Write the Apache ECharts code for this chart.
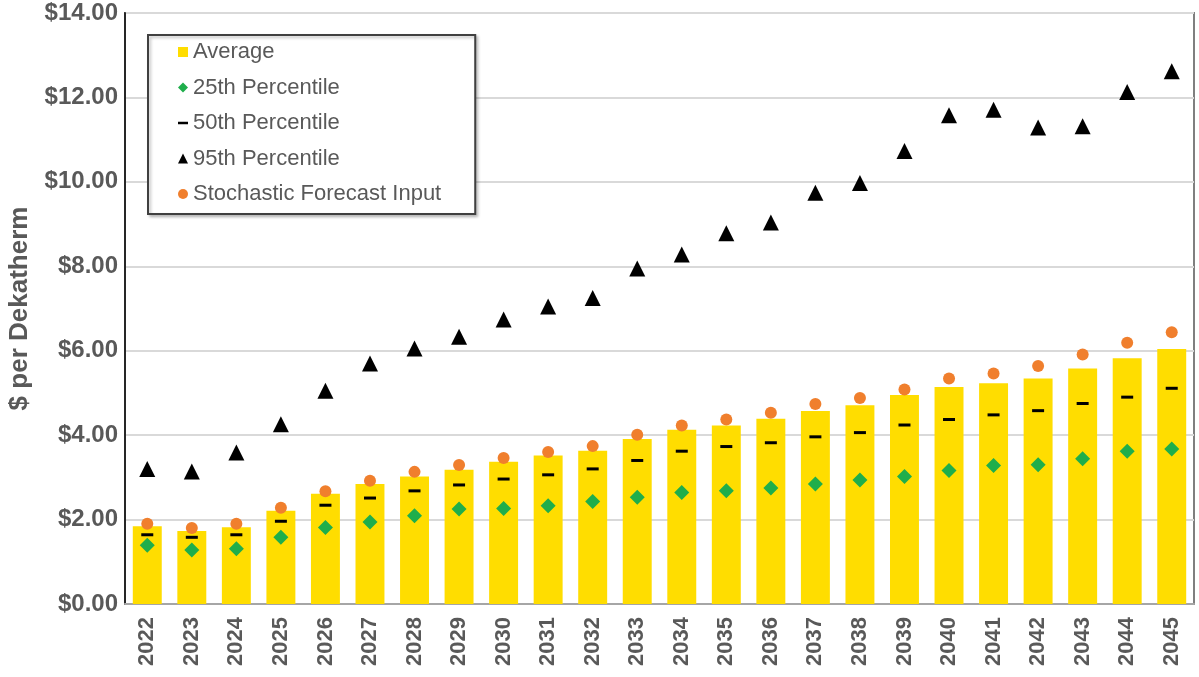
<!DOCTYPE html>
<html>
<head>
<meta charset="utf-8">
<title>Natural gas price forecast</title>
<script src="https://cdn.jsdelivr.net/npm/echarts@6/dist/echarts.min.js"></script>
<style>
  html, body { margin: 0; padding: 0; background: #ffffff; }
  #chart { width: 1199px; height: 677px; }
</style>
</head>
<body>
<div id="chart"></div>
<script>
// Forecast years
const years = ['2022','2023','2024','2025','2026','2027','2028','2029','2030','2031','2032','2033',
               '2034','2035','2036','2037','2038','2039','2040','2041','2042','2043','2044','2045'];

// $ per Dekatherm
const average = [1.84,1.73,1.82,2.21,2.61,2.84,3.02,3.18,3.37,3.52,3.63,3.91,
                 4.13,4.23,4.39,4.57,4.71,4.95,5.14,5.23,5.34,5.58,5.82,6.04];
const pct25   = [1.39,1.28,1.31,1.58,1.81,1.94,2.09,2.25,2.26,2.33,2.43,2.53,
                 2.64,2.68,2.75,2.84,2.94,3.02,3.16,3.28,3.30,3.44,3.62,3.67];
const pct50   = [1.64,1.58,1.64,1.96,2.34,2.51,2.68,2.82,2.96,3.06,3.20,3.40,
                 3.62,3.73,3.82,3.96,4.06,4.24,4.37,4.48,4.58,4.75,4.90,5.11];
const pct95   = [3.20,3.14,3.59,4.26,5.05,5.70,6.05,6.33,6.74,7.05,7.25,7.95,
                 8.28,8.78,9.04,9.74,9.97,10.73,11.58,11.71,11.29,11.32,12.13,12.62];
const stochasticInput = [1.90,1.80,1.90,2.28,2.67,2.92,3.13,3.29,3.46,3.60,3.74,4.01,
                 4.23,4.37,4.53,4.74,4.88,5.08,5.34,5.46,5.64,5.91,6.19,6.44];

// Y-axis ticks
const yMin = 0, yMax = 14, yStep = 2;

const FONT = "'Liberation Sans', Arial, sans-serif";
const TEXT = '#595959';

const chart = echarts.init(document.getElementById('chart'), null, { renderer: 'canvas' });

chart.setOption({
  animation: false,
  backgroundColor: '#ffffff',
  grid: {
    left: 125, right: 5, top: 13, bottom: 73,
    outerBoundsMode: 'none',
    show: true, borderColor: '#7f7f7f', borderWidth: 2
  },
  legend: {
    orient: 'vertical',
    left: 148, top: 35,
    padding: [6, 34, 9, 30],
    itemGap: 13.5,
    itemWidth: 10, itemHeight: 10,
    borderColor: '#404040', borderWidth: 2,
    backgroundColor: '#ffffff',
    shadowColor: 'rgba(0,0,0,0.25)', shadowBlur: 3, shadowOffsetX: 2, shadowOffsetY: 2,
    textStyle: { fontFamily: FONT, fontSize: 22, color: TEXT, lineHeight: 22 },
    data: [
      { name: 'Average', icon: 'rect' },
      { name: '25th Percentile', icon: 'diamond' },
      { name: '50th Percentile', icon: 'path://M0,0 L10,0 L10,2.5 L0,2.5 Z' },
      { name: '95th Percentile', icon: 'triangle' },
      { name: 'Stochastic Forecast Input', icon: 'circle' }
    ]
  },
  xAxis: {
    type: 'category',
    data: years,
    axisTick: { show: false },
    axisLine: { lineStyle: { color: '#a6a6a6', width: 2 } },
    axisLabel: {
      rotate: 90, margin: 13,
      fontFamily: FONT, fontSize: 22, fontWeight: 'bold', color: TEXT
    }
  },
  yAxis: {
    type: 'value',
    min: yMin, max: yMax, interval: yStep,
    name: '$ per Dekatherm',
    nameLocation: 'middle',
    nameGap: 92,
    nameTextStyle: { fontFamily: FONT, fontSize: 26, fontWeight: 'bold', color: TEXT },
    axisLine: { show: true, lineStyle: { color: '#262626', width: 2 } },
    axisTick: { show: false },
    splitLine: { lineStyle: { color: '#d9d9d9', width: 2 } },
    axisLabel: {
      margin: 7,
      fontFamily: FONT, fontSize: 24, fontWeight: 'bold', color: TEXT,
      formatter: v => '$' + v.toFixed(2)
    }
  },
  series: [
    {
      name: 'Average', type: 'bar', data: average,
      barWidth: '65%',
      itemStyle: { color: '#ffdd00' }
    },
    {
      name: '25th Percentile', type: 'scatter', data: pct25,
      symbol: 'diamond', symbolSize: 15,
      itemStyle: { color: '#1fae4b', opacity: 1 }, z: 3
    },
    {
      name: '50th Percentile', type: 'scatter', data: pct50,
      symbol: 'rect', symbolSize: [12, 3],
      itemStyle: { color: '#000000', opacity: 1 }, z: 3
    },
    {
      name: '95th Percentile', type: 'scatter', data: pct95,
      symbol: 'triangle', symbolSize: 16,
      itemStyle: { color: '#000000', opacity: 1 }, z: 3
    },
    {
      name: 'Stochastic Forecast Input', type: 'scatter', data: stochasticInput,
      symbol: 'circle', symbolSize: 12,
      itemStyle: { color: '#f07f2d', opacity: 1 }, z: 3
    }
  ]
});
</script>
</body>
</html>
